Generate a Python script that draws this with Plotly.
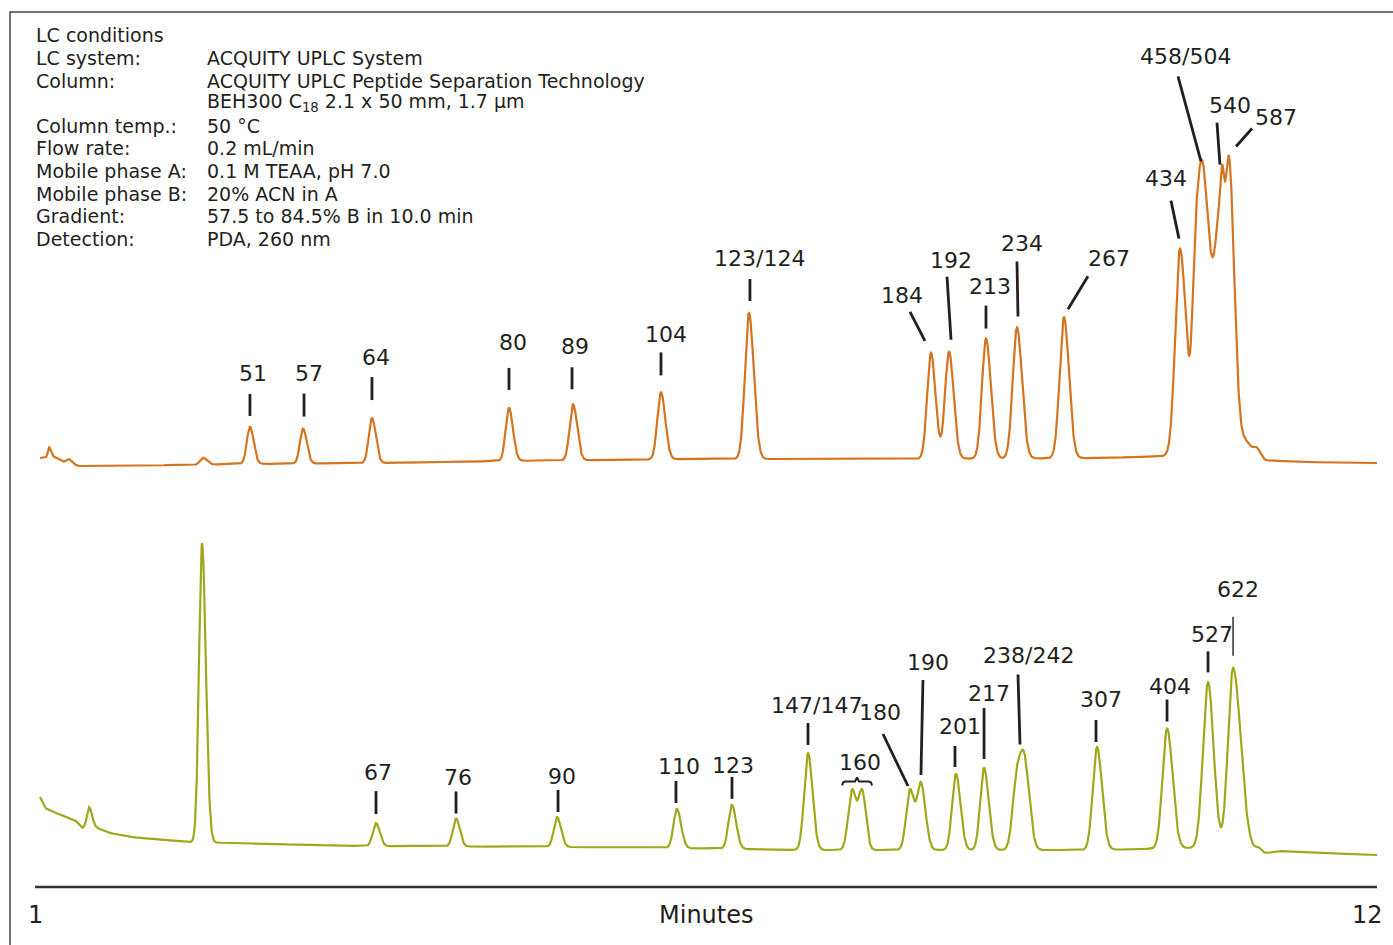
import numpy as np
import plotly.graph_objects as go

# ------------------------------------------------------------------
# DATA (retention time in minutes, signal in arbitrary absorbance units)
# ------------------------------------------------------------------
# Top chromatogram (orange)
top_peak_time = [1.115, 1.279, 2.377, 2.762, 3.197, 3.762, 4.885, 5.410, 6.131, 6.852,
                 8.344, 8.492, 8.795, 9.049, 9.434, 10.385, 10.516, 10.582, 10.721, 10.787,
                 10.918, 11.016]
top_peak_height = [10, 4, 7, 37, 35, 45, 53, 56, 67, 146,
                   106, 107, 120, 131, 141, 208, 170, 212, 244, 295,
                   18, 10]
top_sigma_left = [0.0098, 0.0205, 0.0246, 0.0254, 0.0254, 0.0262, 0.0270, 0.0279, 0.0295, 0.0328,
                  0.0311, 0.0328, 0.0328, 0.0344, 0.0352, 0.0385, 0.0287, 0.0430, 0.0639, 0.0328,
                  0.0492, 0.0287]
top_sigma_right = [0.0164, 0.0246, 0.0328, 0.0303, 0.0303, 0.0311, 0.0328, 0.0336, 0.0352, 0.0393,
                   0.0369, 0.0377, 0.0393, 0.0410, 0.0410, 0.0516, 0.0430, 0.0451, 0.0246, 0.0434,
                   0.0492, 0.0287]
top_base_time = [1.041, 1.164, 1.230, 1.254, 1.352, 2.270, 2.680, 3.828, 4.811, 6.451,
                 8.090, 9.730, 10.262, 11.041, 11.369, 12.0]
top_base_level = [8, 9, 4, 4, 0, 1, 2, 3, 5, 7, 7, 8, 10, 6, 4, 3]

# Bottom chromatogram (green)
bot_peak_time = [1.443, 2.369, 3.795, 4.451, 5.279, 6.262, 6.713, 7.336, 7.697, 7.779,
                 8.172, 8.262, 8.549, 8.779, 9.049, 9.115, 9.705, 10.279, 10.615, 10.820,
                 11.025]
bot_peak_height = [21, 299, 23, 28, 30, 39, 44, 97, 59, 59,
                   60, 66, 76, 82, 72, 76, 103, 120, 166, 181,
                   4]
bot_sigma_left = [0.0180, 0.0246, 0.0262, 0.0262, 0.0270, 0.0279, 0.0287, 0.0311, 0.0311, 0.0311,
                  0.0311, 0.0311, 0.0311, 0.0311, 0.0344, 0.0344, 0.0344, 0.0369, 0.0410, 0.0410,
                  0.0205]
bot_sigma_right = [0.0246, 0.0311, 0.0311, 0.0311, 0.0328, 0.0336, 0.0344, 0.0369, 0.0311, 0.0311,
                   0.0344, 0.0369, 0.0369, 0.0377, 0.0393, 0.0393, 0.0410, 0.0451, 0.0459, 0.0631,
                   0.0205]
bot_base_time = [1.041, 1.082, 1.148, 1.287, 1.336, 1.385, 1.508, 1.615, 1.779, 2.270,
                 2.598, 3.689, 5.303, 6.287, 7.270, 9.730, 10.467, 10.877, 11.098, 11.180, 12.0]
bot_base_level = [58, 47, 43, 37, 34, 27, 27, 22, 18, 13,
                  12, 9, 8, 7, 5, 5, 7, 6, 2, 4, 0]

# Peak labels: (text, retention time of labelled peak)
top_label_text = ["51", "57", "64", "80", "89", "104", "123/124", "184", "192", "213",
                  "234", "267", "434", "458/504", "540", "587"]
top_label_time = [2.762, 3.197, 3.762, 4.885, 5.410, 6.131, 6.852, 8.344, 8.492, 8.795,
                  9.049, 9.434, 10.385, 10.582, 10.721, 10.787]
bot_label_text = ["67", "76", "90", "110", "123", "147/147", "160", "180", "190", "201",
                  "217", "238/242", "307", "404", "527", "622"]
bot_label_time = [3.795, 4.451, 5.279, 6.262, 6.713, 7.336, 7.738, 8.172, 8.262, 8.549,
                  8.779, 9.082, 9.705, 10.279, 10.615, 10.820]

axis_min, axis_max = 1, 12
axis_title = "Minutes"

conditions = [
    ("LC conditions", ""),
    ("LC system:", "ACQUITY UPLC System"),
    ("Column:", "ACQUITY UPLC Peptide Separation Technology"),
    ("", "BEH300 C<sub>18</sub> 2.1 x 50 mm, 1.7 µm"),
    ("Column temp.:", "50 °C"),
    ("Flow rate:", "0.2 mL/min"),
    ("Mobile phase A:", "0.1 M TEAA, pH 7.0"),
    ("Mobile phase B:", "20% ACN in A"),
    ("Gradient:", "57.5 to 84.5% B in 10.0 min"),
    ("Detection:", "PDA, 260 nm"),
]

# ------------------------------------------------------------------
# LAYOUT / STYLE (pixel offsets of leader lines and label texts)
# (line dx0, up0, dx1, up1, text dx, text up)
# ------------------------------------------------------------------
top_label_offsets = [
    (0, 33, 0, 11, 3, 53), (1, 35, 1, 12, 6, 55), (0, 41, 0, 18, 4, 61),
    (0, 40, 0, 18, 4, 65), (-1, 37, -1, 15, 2, 58), (0, 40, 0, 17, 5, 58),
    (1, 34, 1, 12, 11, 55), (-21, 41, -6, 12, -29, 57), (-2, 75, 2, 12, 2, 91),
    (0, 33, 0, 10, 4, 52), (0, 66, 1, 11, 5, 84), (24, 41, 4, 8, 45, 59),
    (-9, 48, -1, 10, -14, 70), (-26, 94, -3, 9, -19, 114), (-4, 51, -1, 9, 9, 68),
    (23, 28, 7, 10, 47, 39),
]
bot_label_offsets = [
    (0, 32, 0, 9, 2, 51), (0, 27, 0, 5, 2, 41), (1, 27, 1, 5, 5, 41),
    (-1, 28, -1, 6, 2, 42), (0, 28, 0, 6, 1, 39), (0, 30, 0, 8, 9, 48),
    None, (-27, 55, -2, 3, -30, 77), (2, 102, 0, 7, 7, 120),
    (-1, 28, -1, 7, 4, 48), (0, 60, 0, 9, 5, 75), (-3, 77, -1, 7, 7, 96),
    (-1, 27, -1, 5, 4, 48), (0, 29, 0, 7, 3, 42), (0, 31, 0, 10, 4, 48),
    (0, 51, 0, 12, 5, 78),
]
brace_offsets = [(-15, 15), (-14, 18), (-12, 19), (-2, 19), (0, 23), (2, 19), (12, 19), (14, 18), (15, 15)]
brace_text = (3, 38)

W, H = 1393, 945
PX_PER_MIN = 122.0
X0_PX = 35.0
TOP_ZERO_PX = 466.0
BOT_ZERO_PX = 855.0
ORANGE = "#D4741F"
GREEN = "#A0A71B"
INK = "#231F20"
FONT = "DejaVu Sans"


def asym_peak(t, t0, h, sl, sr):
    s = np.where(t < t0, sl, sr)
    return h * np.exp(-0.5 * ((t - t0) / s) ** 2)


def chromatogram(t, base_t, base_v, pt, ph, psl, psr):
    y = np.interp(t, base_t, base_v)
    for a, b, c, d in zip(pt, ph, psl, psr):
        y = y + asym_peak(t, a, b, c, d)
    return y


t = np.linspace(1.041, 12.0, 7000)
y_top = chromatogram(t, top_base_time, top_base_level, top_peak_time, top_peak_height,
                     top_sigma_left, top_sigma_right)
y_bot = chromatogram(t, bot_base_time, bot_base_level, bot_peak_time, bot_peak_height,
                     bot_sigma_left, bot_sigma_right)

fig = go.Figure()
fig.add_trace(go.Scatter(x=t, y=y_top, mode="lines", line=dict(color=ORANGE, width=2.2),
                         yaxis="y", hoverinfo="skip", showlegend=False))
fig.add_trace(go.Scatter(x=t, y=y_bot, mode="lines", line=dict(color=GREEN, width=2.2),
                         yaxis="y2", hoverinfo="skip", showlegend=False))

shapes = []
annotations = []


def add_labels(texts, times, offsets, curve, yref, tref):
    for txt, tt, off in zip(texts, times, offsets):
        y0 = float(np.interp(tt, t, curve))
        if off is None:
            # brace spanning a doublet
            bx = [tt + dx / PX_PER_MIN for dx, up in brace_offsets]
            by = [y0 + up for dx, up in brace_offsets]
            fig.add_trace(go.Scatter(x=bx, y=by, mode="lines", line=dict(color=INK, width=2),
                                     yaxis=tref, hoverinfo="skip", showlegend=False))
            tdx, tup = brace_text
        else:
            dx0, up0, dx1, up1, tdx, tup = off
            width = 1.4 if txt == "622" else 2.8
            shapes.append(dict(type="line", xref="x", yref=yref,
                               x0=tt + dx0 / PX_PER_MIN, y0=y0 + up0,
                               x1=tt + dx1 / PX_PER_MIN, y1=y0 + up1,
                               line=dict(color=INK, width=width)))
        annotations.append(dict(x=tt + tdx / PX_PER_MIN, y=y0 + tup, xref="x", yref=yref,
                                text=txt, showarrow=False, xanchor="center", yanchor="middle",
                                font=dict(family=FONT, size=22, color=INK)))


add_labels(top_label_text, top_label_time, top_label_offsets, y_top, "y", "y")
add_labels(bot_label_text, bot_label_time, bot_label_offsets, y_bot, "y2", "y2")

# LC conditions block
line_y = [35, 58, 81, 103, 126, 148, 171, 194, 216, 239]
for (k, v), py in zip(conditions, line_y):
    if k:
        annotations.append(dict(x=34 / W, y=1 - py / H, xref="paper", yref="paper", text=k,
                                showarrow=False, xanchor="left", yanchor="middle",
                                font=dict(family=FONT, size=19, color=INK)))
    if v:
        annotations.append(dict(x=205 / W, y=1 - py / H, xref="paper", yref="paper", text=v,
                                showarrow=False, xanchor="left", yanchor="middle",
                                font=dict(family=FONT, size=19, color=INK)))

# time axis line and labels
AXIS_Y = 1 - 887 / H
shapes.append(dict(type="line", xref="x", yref="paper", x0=axis_min, x1=axis_max,
                   y0=AXIS_Y, y1=AXIS_Y, line=dict(color="#333333", width=2.6)))
annotations.append(dict(x=axis_min, y=1 - 915 / H, xref="x", yref="paper", text=str(axis_min),
                        showarrow=False, xanchor="center", yanchor="middle",
                        font=dict(family=FONT, size=24, color=INK)))
annotations.append(dict(x=axis_max, y=1 - 915 / H, xref="x", yref="paper", text=str(axis_max),
                        showarrow=False, xanchor="right", yanchor="middle", xshift=8,
                        font=dict(family=FONT, size=24, color=INK)))
annotations.append(dict(x=(axis_min + axis_max) / 2, y=1 - 915 / H, xref="x", yref="paper",
                        text=axis_title, showarrow=False, xanchor="center", yanchor="middle",
                        font=dict(family=FONT, size=24, color=INK)))

# frame (left and top border)
shapes.append(dict(type="path", xref="paper", yref="paper",
                   path=f"M {10 / W} 0 L {10 / W} {1 - 12 / H} L 1 {1 - 12 / H}",
                   line=dict(color="#444444", width=1.5)))

x_lo = axis_min - X0_PX / PX_PER_MIN
x_hi = x_lo + W / PX_PER_MIN

fig.update_layout(
    width=W, height=H,
    margin=dict(l=0, r=0, t=0, b=0),
    paper_bgcolor="white", plot_bgcolor="white",
    xaxis=dict(range=[x_lo, x_hi], visible=False, fixedrange=True),
    yaxis=dict(range=[TOP_ZERO_PX - H, TOP_ZERO_PX], visible=False, fixedrange=True),
    yaxis2=dict(range=[BOT_ZERO_PX - H, BOT_ZERO_PX], visible=False, overlaying="y",
                fixedrange=True),
    shapes=shapes,
    annotations=annotations,
    showlegend=False,
)

fig.write_html("out.html")
